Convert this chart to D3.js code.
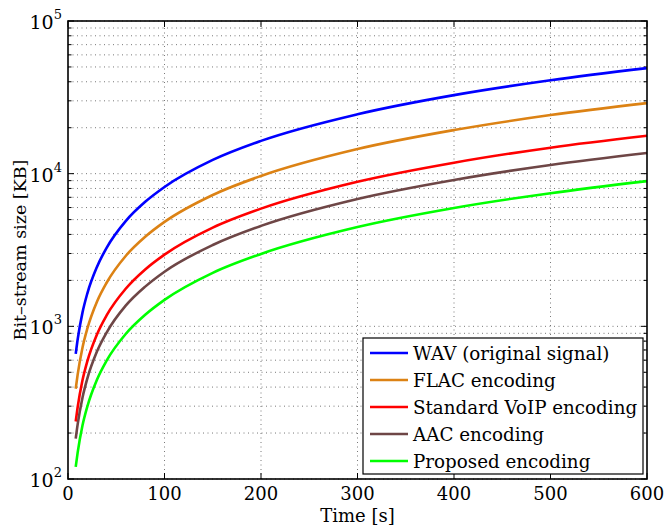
<!DOCTYPE html>
<html>
<head>
<meta charset="utf-8">
<script src="https://cdn.jsdelivr.net/npm/d3@7"></script>
<style>
  body { margin: 0; background: #fff; }
</style>
</head>
<body>
<svg id="canvas" width="664" height="529"></svg>
<script>
const width = 664
const height = 529
const margin = { left: 68, right: 17, top: 21, bottom: 50 }
const font = "'DejaVu Serif', serif"

// time axis samples [s]
const times = [8, 10, 15, 20, 30, 40, 60, 80, 100, 150, 200, 300, 400, 500, 600]

// bit-stream sizes [KB]
const wav      = [660, 820, 1230, 1640, 2450, 3270, 4910, 6540, 8180, 12300, 16400, 24500, 32700, 40900, 49100]
const flac     = [390, 483, 725, 966, 1450, 1930, 2900, 3860, 4830, 7250, 9660, 14500, 19300, 24200, 29000]
const voip     = [238, 295, 443, 590, 885, 1180, 1770, 2360, 2950, 4430, 5900, 8850, 11800, 14800, 17700]
const aac      = [184, 228, 341, 455, 683, 910, 1370, 1820, 2280, 3410, 4550, 6830, 9100, 11400, 13650]
const proposed = [120, 149, 224, 298, 447, 596, 894, 1190, 1490, 2240, 2980, 4470, 5960, 7450, 8940]

const seriesNames = ["WAV (original signal)", "FLAC encoding", "Standard VoIP encoding", "AAC encoding", "Proposed encoding"]
const seriesColors = ["#0000ff", "#dc8214", "#ff0000", "#6e4646", "#00ff00"]
const seriesValues = [wav, flac, voip, aac, proposed]

const xTicks = [0, 100, 200, 300, 400, 500, 600]
const yTicks = [100, 1000, 10000, 100000]

const canvas = d3.select("#canvas").attr("font-family", font)

const x = d3.scaleLinear().domain([0, 600]).range([margin.left, width - margin.right])
const y = d3.scaleLog().domain([100, 100000]).range([height - margin.bottom, margin.top])

const x0 = x.range()[0], x1 = x.range()[1]
const y0 = y.range()[0], y1 = y.range()[1]

// minor log values
var minorY = []
for (var d = 100; d < 100000; d *= 10) {
    for (var k = 1; k <= 9; k++) minorY.push(d * k)
}
minorY.push(100000)

// grid
const grid = canvas.append("g").attr("stroke", "#555").attr("stroke-width", 0.8).attr("stroke-dasharray", "1,3.5")
minorY.forEach(v => {
    grid.append("line").attr("x1", x0).attr("x2", x1).attr("y1", y(v)).attr("y2", y(v))
})
xTicks.slice(1, -1).forEach(v => {
    grid.append("line").attr("x1", x(v)).attr("x2", x(v)).attr("y1", y0).attr("y2", y1)
})

// ticks, inward on all sides
const ticks = canvas.append("g").attr("stroke", "#000").attr("stroke-width", 1)
xTicks.forEach(v => {
    ticks.append("line").attr("x1", x(v)).attr("x2", x(v)).attr("y1", y0).attr("y2", y0 - 6)
    ticks.append("line").attr("x1", x(v)).attr("x2", x(v)).attr("y1", y1).attr("y2", y1 + 6)
})
minorY.forEach(v => {
    const len = yTicks.includes(v) ? 6 : 3.5
    ticks.append("line").attr("x1", x0).attr("x2", x0 + len).attr("y1", y(v)).attr("y2", y(v))
    ticks.append("line").attr("x1", x1).attr("x2", x1 - len).attr("y1", y(v)).attr("y2", y(v))
})

// lines
const line = d3.line()
    .x((d, i) => x(times[i]))
    .y(d => y(d))
    .curve(d3.curveMonotoneX)

seriesValues.forEach((vals, i) => {
    canvas.append("path")
        .attr("d", line(vals))
        .attr("fill", "none")
        .attr("stroke", seriesColors[i])
        .attr("stroke-width", 2.6)
})

// box
canvas.append("rect")
    .attr("x", x0).attr("y", y1)
    .attr("width", x1 - x0).attr("height", y0 - y1)
    .attr("fill", "none").attr("stroke", "#000").attr("stroke-width", 1.6)

// tick labels
xTicks.forEach(v => {
    canvas.append("text")
        .attr("x", x(v)).attr("y", y0 + 21)
        .attr("text-anchor", "middle")
        .attr("font-size", 18)
        .text(v)
})
yTicks.forEach(v => {
    const t = canvas.append("text")
        .attr("x", x0 - 6).attr("y", y(v) + 8)
        .attr("text-anchor", "end")
        .attr("font-size", 19)
    t.append("tspan").text("10")
    t.append("tspan").attr("font-size", 13).attr("dy", -10).text(Math.round(Math.log10(v)))
})

// axis labels
canvas.append("text")
    .attr("x", (x0 + x1) / 2).attr("y", height - 7)
    .attr("text-anchor", "middle")
    .attr("font-size", 18)
    .text("Time [s]")

canvas.append("text")
    .attr("transform", "translate(26," + ((y0 + y1) / 2) + ") rotate(-90)")
    .attr("text-anchor", "middle")
    .attr("font-size", 17.5)
    .text("Bit\u2013stream size [KB]")

// legend
const legend = canvas.append("g").attr("transform", "translate(363,338)")
legend.append("rect")
    .attr("width", 280).attr("height", 136)
    .attr("fill", "#fff").attr("stroke", "#000").attr("stroke-width", 1.2)

seriesNames.forEach((name, i) => {
    const ly = 15 + i * 27
    legend.append("line")
        .attr("x1", 7).attr("x2", 45).attr("y1", ly).attr("y2", ly)
        .attr("stroke", seriesColors[i]).attr("stroke-width", 2.6)
    legend.append("text")
        .attr("x", 50).attr("y", ly + 6.5)
        .attr("font-size", 18.3)
        .text(name)
})
</script>
</body>
</html>
